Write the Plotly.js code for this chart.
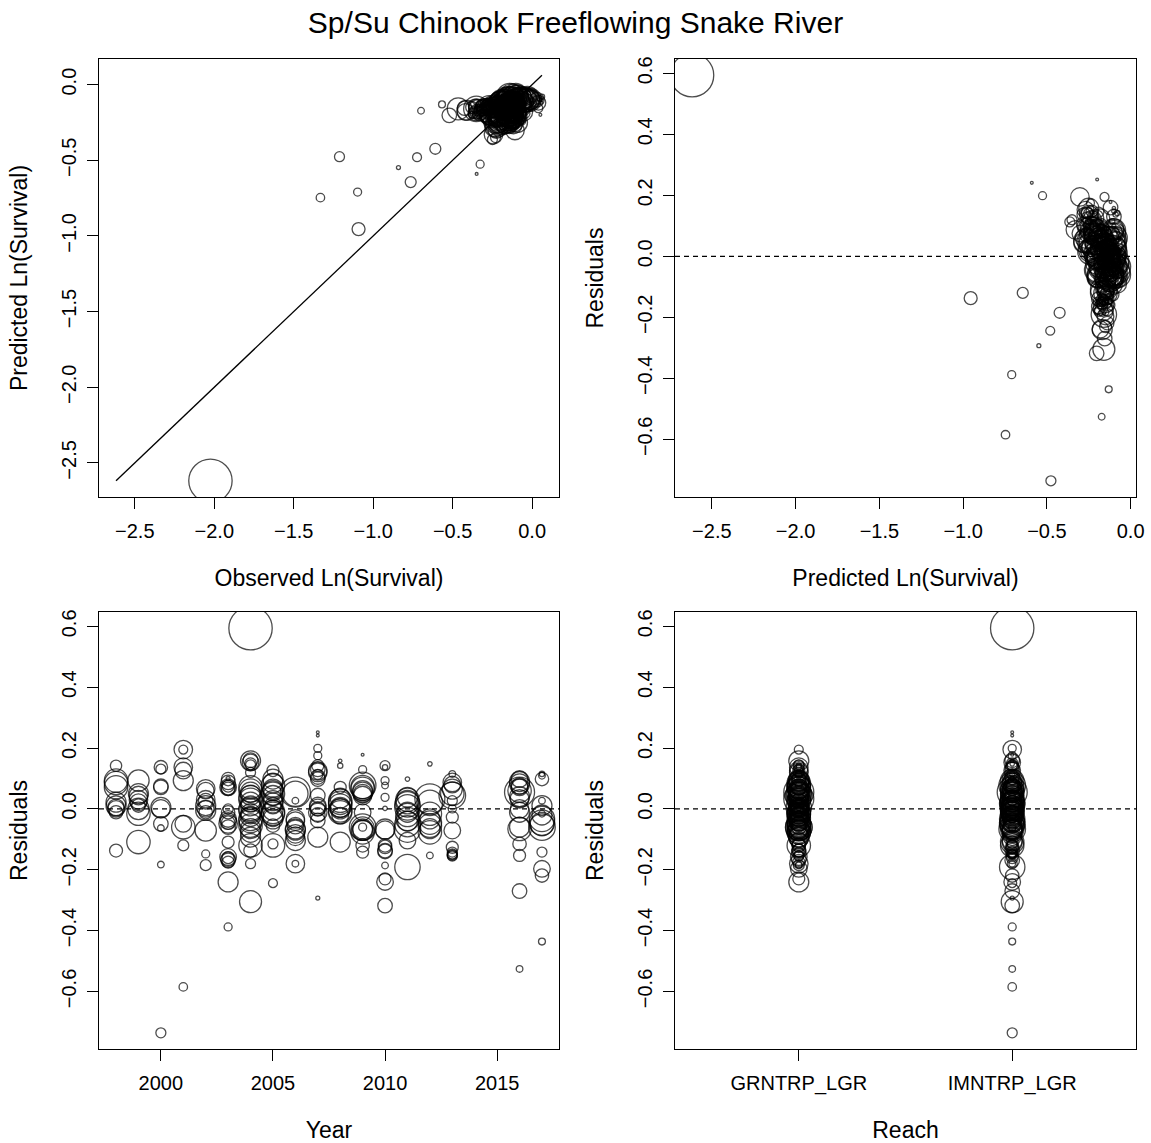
<!DOCTYPE html>
<html>
<head>
<meta charset="utf-8">
<script src="https://cdn.plot.ly/plotly-3.0.1.min.js"></script>
<style>html,body{margin:0;padding:0;background:#fff;}#chart{width:1151px;height:1143px;}</style>
</head>
<body>
<div id="chart"></div>
<script>
// ---- data (one entry per reach-year release group) ----
const reachLabels = ['GRNTRP_LGR', 'IMNTRP_LGR'];

const year = [
  1998,1998,1998,1998,1998,1998,1998,
  1999,1999,1999,1999,1999,1999,
  2000,2000,2000,2000,2000,2000,2000,2000,
  2001,2001,2001,2001,2001,2001,2001,2001,2001,
  2002,2002,2002,2002,2002,2002,2002,2002,
  2003,2003,2003,2003,2003,2003,2003,2003,2003,2003,2003,2003,2003,2003,2003,2003,
  2004,2004,2004,2004,2004,2004,2004,2004,2004,2004,2004,2004,2004,2004,2004,2004,2004,2004,2004,
  2005,2005,2005,2005,2005,2005,2005,2005,2005,2005,2005,2005,2005,2005,
  2006,2006,2006,2006,2006,2006,2006,2006,2006,
  2007,2007,2007,2007,2007,2007,2007,2007,2007,2007,2007,2007,2007,2007,2007,
  2008,2008,2008,2008,2008,2008,2008,2008,2008,
  2009,2009,2009,2009,2009,2009,2009,2009,2009,2009,2009,2009,2009,
  2010,2010,2010,2010,2010,2010,2010,2010,2010,2010,2010,2010,2010,
  2011,2011,2011,2011,2011,2011,2011,2011,2011,
  2012,2012,2012,2012,2012,2012,2012,
  2013,2013,2013,2013,2013,2013,2013,2013,2013,2013,2013,
  2016,2016,2016,2016,2016,2016,2016,2016,2016,2016,2016,
  2017,2017,2017,2017,2017,2017,2017,2017,2017,2017,2017,2017,
  // overlapping groups inside the dense band
  1998,1998,1998,
  1999,1999,1999,
  2000,2000,
  2002,2002,2002,
  2003,2003,2003,2003,2003,2003,
  2004,2004,2004,2004,2004,2004,2004,2004,2004,2004,
  2005,2005,2005,2005,2005,2005,
  2006,2006,2006,2006,
  2007,2007,2007,2007,2007,
  2008,2008,2008,2008,
  2009,2009,2009,2009,2009,
  2010,2010,2010,
  2011,2011,2011,2011,2011,
  2012,2012,2012,
  2013,2013,2013,2013,2013,
  2016,2016,2016,2016,2016,2016,
  2017,2017,2017
];

const reachIdx = [
  0,1,0,1,0,1,0,
  0,1,0,1,0,1,
  1,0,0,1,0,1,0,1,
  1,0,0,1,0,1,0,1,1,
  1,0,1,0,1,0,1,0,
  1,0,1,0,1,0,1,0,1,0,1,0,1,0,0,1,
  1,0,1,1,0,1,0,1,0,1,0,1,0,1,0,1,0,1,1,
  0,1,0,1,0,1,0,1,0,1,0,1,0,1,
  1,0,1,0,1,0,1,0,1,
  1,1,1,1,1,0,1,0,1,0,1,0,1,0,1,
  1,0,1,0,1,0,1,0,1,
  1,0,1,0,1,0,1,0,1,0,1,0,1,
  1,0,1,0,1,0,1,0,1,0,0,1,1,
  1,0,1,0,1,0,1,0,1,
  1,0,1,0,1,0,1,
  0,1,0,1,0,1,0,1,0,1,0,
  1,0,1,0,1,0,1,0,1,1,1,
  1,0,1,0,1,0,1,0,1,0,1,1,
  0,1,0,
  0,1,0,
  1,0,
  1,0,0,
  1,0,1,0,1,0,
  1,0,1,0,1,0,1,0,1,0,
  1,0,1,0,1,0,
  0,0,1,1,
  1,0,1,0,1,
  1,0,1,0,
  0,1,0,1,1,
  0,1,0,
  0,1,0,1,0,
  1,0,1,
  0,1,1,0,0,
  0,1,1,0,0,1,
  1,0,1
];

const predicted = [
  -0.26,-0.24,-0.20,-0.15,-0.12,-0.10,-0.955,
  -0.22,-0.18,-0.14,-0.11,-0.13,-0.17,
  -0.28,-0.22,-0.19,-0.16,-0.12,-0.09,-0.15,-0.476,
  -0.303,-0.156,-0.25,-0.21,-0.19,-0.14,-0.12,-0.644,-0.747,
  -0.22,-0.17,-0.14,-0.11,-0.09,-0.15,-0.20,-0.424,
  -0.10,-0.24,-0.22,-0.20,-0.18,-0.13,-0.11,-0.10,-0.14,-0.12,-0.16,-0.15,-0.18,-0.14,-0.17,-0.71,
  -2.618,-0.25,-0.27,-0.23,-0.35,-0.21,-0.18,-0.16,-0.14,-0.12,-0.10,-0.07,-0.13,-0.15,-0.11,-0.17,-0.14,-0.19,-0.16,
  -0.26,-0.24,-0.21,-0.19,-0.16,-0.13,-0.11,-0.09,-0.08,-0.12,-0.14,-0.13,-0.15,-0.48,
  -0.22,-0.17,-0.14,-0.12,-0.10,-0.13,-0.15,-0.16,-0.20,
  -0.20,-0.59,-0.526,-0.24,-0.26,-0.23,-0.363,-0.20,-0.16,-0.12,-0.10,-0.09,-0.13,-0.15,-0.548,
  -0.10,-0.08,-0.21,-0.17,-0.14,-0.12,-0.10,-0.08,-0.14,
  -0.12,-0.22,-0.20,-0.18,-0.16,-0.14,-0.11,-0.13,-0.09,-0.12,-0.15,-0.16,-0.17,
  -0.25,-0.09,-0.22,-0.19,-0.16,-0.13,-0.11,-0.14,-0.15,-0.17,-0.15,-0.18,-0.203,
  -0.26,-0.20,-0.17,-0.14,-0.11,-0.09,-0.12,-0.15,-0.16,
  -0.10,-0.18,-0.13,-0.11,-0.09,-0.12,-0.17,
  -0.25,-0.33,-0.19,-0.16,-0.12,-0.10,-0.13,-0.15,-0.16,-0.17,-0.14,
  -0.27,-0.24,-0.22,-0.19,-0.16,-0.13,-0.11,-0.15,-0.17,-0.155,-0.173,
  -0.11,-0.19,-0.23,-0.15,-0.12,-0.09,-0.10,-0.08,-0.16,-0.15,-0.14,-0.131,
  -0.10,-0.22,-0.18,
  -0.09,-0.20,-0.24,
  -0.11,-0.22,
  -0.08,-0.20,-0.12,
  -0.08,-0.26,-0.09,-0.20,-0.13,-0.19,
  -0.09,-0.28,-0.22,-0.08,-0.20,-0.16,-0.18,-0.10,-0.12,-0.19,
  -0.10,-0.27,-0.24,-0.19,-0.07,-0.12,
  -0.10,-0.19,-0.20,-0.08,
  -0.10,-0.18,-0.28,-0.22,-0.17,
  -0.24,-0.09,-0.19,-0.11,
  -0.10,-0.27,-0.19,-0.08,-0.09,
  -0.20,-0.11,-0.19,
  -0.10,-0.24,-0.20,-0.08,-0.16,
  -0.10,-0.20,-0.16,
  -0.10,-0.25,-0.14,-0.18,-0.14,
  -0.10,-0.30,-0.14,-0.25,-0.20,-0.08,
  -0.20,-0.14,-0.16
];

const residual = [
  0.142,0.093,0.071,0.022,0.000,-0.011,-0.137,
  0.093,0.044,0.022,0.011,-0.016,-0.109,
  0.137,0.131,0.071,0.005,-0.049,-0.063,-0.183,-0.736,
  0.195,0.195,0.137,0.126,0.093,-0.049,-0.060,-0.120,-0.585,
  0.066,0.027,0.011,0.000,-0.011,-0.071,-0.148,-0.185,
  0.100,0.098,0.087,0.071,0.066,0.000,-0.011,-0.033,-0.049,-0.060,-0.109,-0.158,-0.169,-0.175,-0.240,-0.388,
  0.594,0.158,0.153,0.148,0.120,0.071,0.055,0.038,0.022,0.000,-0.016,-0.033,-0.055,-0.077,-0.093,-0.120,-0.137,-0.180,-0.305,
  0.126,0.098,0.077,0.060,0.044,0.027,0.011,-0.005,-0.016,-0.033,-0.055,-0.115,-0.120,-0.244,
  0.055,0.027,-0.033,-0.055,-0.066,-0.082,-0.104,-0.180,-0.180,
  0.252,0.241,0.199,0.175,0.142,0.120,0.113,0.098,0.044,0.011,0.000,-0.011,-0.038,-0.093,-0.293,
  0.158,0.142,0.071,0.027,0.011,0.000,-0.011,-0.022,-0.109,
  0.178,0.129,0.077,0.066,0.055,0.044,-0.011,-0.060,-0.066,-0.077,-0.060,-0.120,-0.142,
  0.142,0.137,0.093,0.077,0.038,0.002,-0.066,-0.120,-0.137,-0.186,-0.230,-0.240,-0.318,
  0.098,0.038,0.022,0.005,-0.011,-0.033,-0.066,-0.104,-0.191,
  0.148,0.033,-0.016,-0.033,-0.055,-0.077,-0.153,
  0.115,0.087,0.044,0.027,0.000,-0.027,-0.071,-0.126,-0.142,-0.148,-0.153,
  0.098,0.082,0.071,0.055,0.033,-0.011,-0.066,-0.115,-0.153,-0.270,-0.526,
  0.115,0.109,0.098,0.027,0.011,-0.016,-0.033,-0.060,-0.142,-0.197,-0.219,-0.436,
  0.085,0.010,0.005,
  0.050,0.000,0.030,
  0.075,0.000,
  0.030,-0.005,0.060,
  0.075,0.070,-0.040,-0.045,-0.160,-0.165,
  0.060,0.045,0.030,0.010,-0.005,-0.025,-0.040,-0.065,0.160,0.145,
  0.085,0.050,0.020,-0.010,-0.025,0.065,
  0.050,-0.040,-0.070,-0.090,
  0.130,0.125,0.105,0.005,-0.020,
  0.020,0.005,-0.005,0.035,
  0.072,0.060,-0.065,-0.070,0.050,
  -0.070,-0.125,-0.140,
  0.030,0.015,-0.020,-0.050,-0.040,
  0.020,-0.045,-0.065,
  0.080,0.050,-0.150,-0.155,0.065,
  0.090,0.075,0.060,0.040,-0.060,0.000,
  -0.045,-0.050,-0.020
];

// relative weight of each group (circle area)
const weight = [
  32,137,137,100,69,45,42,
  114,86,69,45,137,137,
  45,25,53,100,53,11,11,25,
  86,20,86,69,100,69,137,30,18,
  86,53,100,69,45,114,16,30,
  4,45,53,69,45,25,45,69,86,53,36,69,53,36,100,16,
  470,100,69,36,25,137,100,137,100,137,100,137,137,100,100,137,45,25,121,
  36,100,137,100,100,100,69,100,137,100,45,25,137,20,
  225,11,86,69,100,86,100,86,11,
  2,2,16,16,36,86,25,53,53,69,53,86,53,100,4,
  3,7,36,137,137,100,137,69,100,
  2,16,177,137,100,86,69,177,100,137,16,45,36,
  25,7,16,11,16,5,100,45,53,11,36,69,53,
  5,100,137,161,100,137,177,69,161,
  5,225,137,100,137,137,11,
  11,86,177,25,16,36,69,36,25,25,25,
  69,100,69,225,86,100,137,45,36,53,11,
  7,11,45,11,100,11,161,177,25,69,45,12,
  137,100,69,
  100,114,86,
  53,86,
  86,100,69,
  36,53,69,45,36,53,
  137,100,137,100,137,100,137,100,53,25,
  100,137,100,137,100,100,
  160,86,100,86,
  53,86,53,69,53,
  137,100,137,100,
  137,100,137,100,86,
  86,45,53,
  137,161,137,161,100,
  161,137,100,
  69,137,25,25,100,
  100,69,137,100,100,86,
  161,137,100
];

const xTicks1 = [-2.5, -2.0, -1.5, -1.0, -0.5, 0.0];
const yTicksResid = [-0.6, -0.4, -0.2, 0.0, 0.2, 0.4, 0.6];
const yearTicks = [2000, 2005, 2010, 2015];

// ---- derived ----
const n = year.length;
[reachIdx, predicted, residual, weight].forEach(a => { if (a.length !== n) throw new Error('length mismatch ' + a.length + ' vs ' + n); });
const observed = predicted.map((p, i) => p + residual[i]);
const reachName = reachIdx.map(i => reachLabels[i]);

function padRange(arr) {
  const lo = Math.min(...arr), hi = Math.max(...arr), d = (hi - lo) * 0.04;
  return [lo - d, hi + d];
}
const allObsPred = observed.concat(predicted);
const lo1 = Math.min(...allObsPred), hi1 = Math.max(...allObsPred);
const range1 = padRange(allObsPred);
const rangePred = padRange(predicted);
const rangeResid = padRange(residual);
const rangeYear = padRange(year);

const marker = {
  symbol: 'circle-open', color: '#000', size: weight,
  sizemode: 'area', sizeref: 0.5, line: { width: 1.3, color: '#000' }
};

const traces = [
  { type: 'scatter', mode: 'markers', x: observed, y: predicted, xaxis: 'x', yaxis: 'y', marker: marker, hoverinfo: 'skip' },
  { type: 'scatter', mode: 'lines', x: [lo1, hi1], y: [lo1, hi1], xaxis: 'x', yaxis: 'y', line: { color: '#000', width: 1.3 }, hoverinfo: 'skip' },
  { type: 'scatter', mode: 'markers', x: predicted, y: residual, xaxis: 'x2', yaxis: 'y2', marker: marker, hoverinfo: 'skip' },
  { type: 'scatter', mode: 'markers', x: year, y: residual, xaxis: 'x3', yaxis: 'y3', marker: marker, hoverinfo: 'skip' },
  { type: 'scatter', mode: 'markers', x: reachName, y: residual, xaxis: 'x4', yaxis: 'y4', marker: marker, hoverinfo: 'skip' }
];

const W = 1151, H = 1143;
const colL = [99 / W, 559 / W], colR = [675 / W, 1136 / W];
const rowT = [1 - 497 / H, 1 - 59 / H], rowB = [1 - 1049 / H, 1 - 612 / H];

const tickFont = { family: 'Liberation Sans, Arial, sans-serif', size: 20, color: '#000' };
const titleFont = { family: 'Liberation Sans, Arial, sans-serif', size: 23, color: '#000' };

function ax(extra) {
  return Object.assign({
    showline: true, linecolor: '#000', linewidth: 1, mirror: true,
    ticks: 'outside', ticklen: 11, tickwidth: 1, tickcolor: '#000',
    showgrid: false, zeroline: false, tickfont: tickFont, fixedrange: true
  }, extra);
}
function xax(extra, title) {
  return ax(Object.assign({ ticklabelstandoff: 5, title: { text: title, font: titleFont, standoff: 28 } }, extra));
}
function yax(extra, title) {
  return ax(Object.assign({ tickangle: -90, ticklabelstandoff: 3, title: { text: title, font: titleFont, standoff: 23 } }, extra));
}

const layout = {
  width: W, height: H,
  margin: { l: 0, r: 0, t: 0, b: 0 },
  paper_bgcolor: '#fff', plot_bgcolor: '#fff',
  showlegend: false, hovermode: false,
  font: { family: 'Liberation Sans, Arial, sans-serif', color: '#000' },
  title: { text: 'Sp/Su Chinook Freeflowing Snake River', x: 0.5, xanchor: 'center', y: 1 - 22 / H, yanchor: 'middle',
           font: { family: 'Liberation Sans, Arial, sans-serif', size: 30, color: '#000' } },
  xaxis: xax({ domain: colL, anchor: 'y', range: range1, tickvals: xTicks1, tickformat: '.1f' }, 'Observed Ln(Survival)'),
  yaxis: yax({ domain: rowT, anchor: 'x', range: range1, tickvals: xTicks1, tickformat: '.1f' }, 'Predicted Ln(Survival)'),
  xaxis2: xax({ domain: colR, anchor: 'y2', range: rangePred, tickvals: xTicks1, tickformat: '.1f' }, 'Predicted Ln(Survival)'),
  yaxis2: yax({ domain: rowT, anchor: 'x2', range: rangeResid, tickvals: yTicksResid, tickformat: '.1f' }, 'Residuals'),
  xaxis3: xax({ domain: colL, anchor: 'y3', range: rangeYear, tickvals: yearTicks }, 'Year'),
  yaxis3: yax({ domain: rowB, anchor: 'x3', range: rangeResid, tickvals: yTicksResid, tickformat: '.1f' }, 'Residuals'),
  xaxis4: xax({ domain: colR, anchor: 'y4', type: 'category', categoryorder: 'array', categoryarray: reachLabels,
                range: [-0.58, 1.58] }, 'Reach'),
  yaxis4: yax({ domain: rowB, anchor: 'x4', range: rangeResid, tickvals: yTicksResid, tickformat: '.1f' }, 'Residuals'),
  shapes: ['2', '3', '4'].map(k => ({
    type: 'line', xref: 'x' + k + ' domain', yref: 'y' + k, x0: 0, x1: 1, y0: 0, y1: 0,
    line: { color: '#000', width: 1.2, dash: '5px,4px' }
  }))
};

Plotly.newPlot('chart', traces, layout, { staticPlot: true, displayModeBar: false });
</script>
</body>
</html>
